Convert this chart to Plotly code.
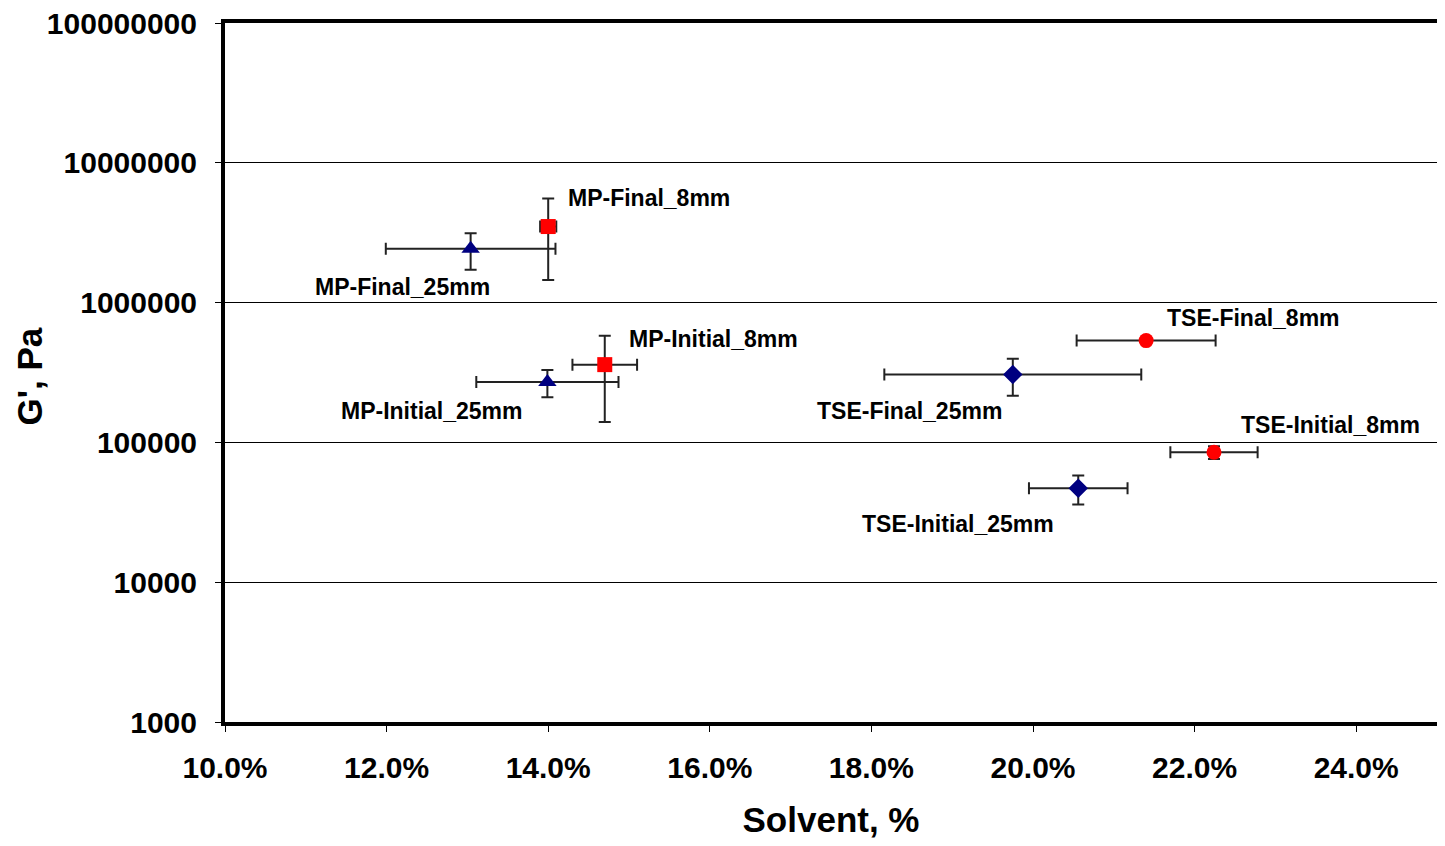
import math
import plotly.graph_objects as go

# Data: solvent (%) and G' (Pa) with symmetric error bars
labels_mp8 = ["MP-Final_8mm", "MP-Initial_8mm"]
x_mp8 = [14.0, 14.7]
xerr_mp8 = [0.1, 0.4]
y_mp8 = [3.5e6, 3.6e5]
yerr_mp8 = [2.05e6, 2.2e5]

labels_mp25 = ["MP-Final_25mm", "MP-Initial_25mm"]
x_mp25 = [13.04, 13.99]
xerr_mp25 = [1.05, 0.88]
y_mp25 = [2.43e6, 2.7e5]
yerr_mp25 = [0.71e6, 0.6e5]

labels_tse8 = ["TSE-Final_8mm", "TSE-Initial_8mm"]
x_tse8 = [21.40, 22.24]
xerr_tse8 = [0.86, 0.54]
y_tse8 = [5.35e5, 8.5e4]
yerr_tse8 = [0.2e5, 0.9e4]

labels_tse25 = ["TSE-Final_25mm", "TSE-Initial_25mm"]
x_tse25 = [19.75, 20.56]
xerr_tse25 = [1.59, 0.61]
y_tse25 = [3.06e5, 4.7e4]
yerr_tse25 = [0.9e5, 1.1e4]

x_ticks = [10, 12, 14, 16, 18, 20, 22, 24]
y_ticks = [1e3, 1e4, 1e5, 1e6, 1e7, 1e8]

FONT = "Liberation Sans, Arial, sans-serif"
ERR = "#222222"

fig = go.Figure()

def add_series(xs, ys, xe, ye, color, symbol, size):
    fig.add_trace(go.Scatter(
        x=xs, y=ys, mode="markers",
        marker=dict(color=color, symbol=symbol, size=size, line=dict(width=0)),
        error_x=dict(type="data", array=xe, color=ERR, thickness=2, width=6),
        error_y=dict(type="data", array=ye, color=ERR, thickness=2, width=6),
        showlegend=False, hoverinfo="skip",
    ))

add_series(x_mp25, y_mp25, xerr_mp25, yerr_mp25, "#000080", "triangle-up", 16)
add_series(x_tse25, y_tse25, xerr_tse25, yerr_tse25, "#000080", "diamond", 15)
add_series(x_mp8, y_mp8, xerr_mp8, yerr_mp8, "#FF0000", "square", 15)
add_series(x_tse8, y_tse8, xerr_tse8, yerr_tse8, "#FF0000", "circle", 15)

# label offsets (pixels) relative to each point
def add_labels(labels, xs, ys, offs):
    for lab, xv, yv, (anchor, dx, dy) in zip(labels, xs, ys, offs):
        fig.add_annotation(
            x=xv, y=math.log10(yv), text=lab, showarrow=False,
            xanchor=anchor, yanchor="middle", xshift=dx, yshift=dy,
            font=dict(family=FONT, size=23, color="black", weight="bold"),
        )

add_labels(labels_mp8, x_mp8, y_mp8, [("left", 18, 29), ("left", 22, 26)])
add_labels(labels_mp25, x_mp25, y_mp25, [("right", 21, -38), ("right", -22, -29)])
add_labels(labels_tse8, x_tse8, y_tse8, [("left", 19, 23), ("left", 25, 27)])
add_labels(labels_tse25, x_tse25, y_tse25, [("right", -9, -36), ("right", -22, -36)])

# y-axis title
fig.add_annotation(
    xref="paper", yref="paper", x=0, y=0.5, xanchor="center", yanchor="middle",
    xshift=-196, yshift=-4, text="G', Pa", textangle=-90, showarrow=False,
    borderpad=0,
    font=dict(family=FONT, size=35, color="black", weight="bold"),
)

fig.update_layout(
    width=1445, height=846,
    margin=dict(l=217, r=16, t=15, b=132),
    paper_bgcolor="white", plot_bgcolor="white",
    font=dict(family=FONT, color="black"),
    xaxis=dict(
        range=[10, 25], tickvals=x_ticks,
        ticktext=[f"{v:.1f}%" for v in x_ticks],
        showgrid=False, zeroline=False, automargin=False,
        showline=True, mirror=True, linecolor="black", linewidth=4,
        ticks="outside", ticklen=6, tickwidth=1, tickcolor="black",
        tickfont=dict(family=FONT, size=30, weight="bold"),
        ticklabelstandoff=10, ticklabeloverflow="allow",
        title=dict(text="Solvent, %", font=dict(family=FONT, size=35, weight="bold"), standoff=25),
    ),
    yaxis=dict(
        type="log", range=[3, 8], tickvals=y_ticks,
        ticktext=[str(int(v)) for v in y_ticks],
        showgrid=True, gridcolor="black", gridwidth=1, zeroline=False, automargin=False,
        showline=True, mirror=True, linecolor="black", linewidth=4,
        ticks="outside", ticklen=6, tickwidth=1, tickcolor="black",
        tickfont=dict(family=FONT, size=30, weight="bold"),
        ticklabelstandoff=12, ticklabeloverflow="allow",
    ),
)

fig.write_html("out.html")
